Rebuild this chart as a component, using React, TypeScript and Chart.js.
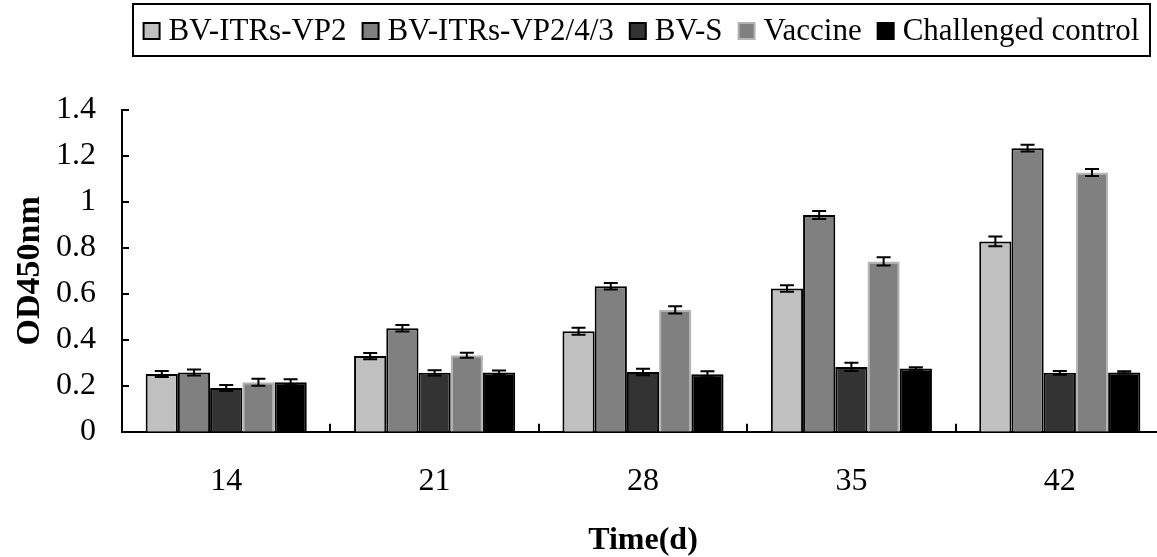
import React, { useEffect, useRef } from "react";
import { Chart, registerables } from "chart.js";

Chart.register(...registerables);

const categories = ["14", "21", "28", "35", "42"];
const seriesNames = ["BV-ITRs-VP2", "BV-ITRs-VP2/4/3", "BV-S", "Vaccine", "Challenged control"];

const vp2 = [0.251, 0.329, 0.437, 0.623, 0.828];
const vp243 = [0.258, 0.45, 0.633, 0.943, 1.234];
const bvs = [0.19, 0.256, 0.26, 0.282, 0.256];
const vaccine = [0.215, 0.333, 0.53, 0.741, 1.128];
const challenged = [0.215, 0.258, 0.25, 0.275, 0.258];

const vp2Err = [0.013, 0.014, 0.015, 0.014, 0.021];
const vp243Err = [0.013, 0.014, 0.014, 0.017, 0.015];
const bvsErr = [0.013, 0.011, 0.014, 0.018, 0.008];
const vaccineErr = [0.015, 0.011, 0.016, 0.018, 0.015];
const challengedErr = [0.013, 0.008, 0.013, 0.005, 0.005];

const yMin = 0;
const yMax = 1.4;
const yStep = 0.2;

const fills = ["#c0c0c0", "#808080", "#333333", "#808080", "#000000"];
const borders = ["#000000", "#000000", "#000000", "#b4b4b4", "#000000"];

const FONT = "'Liberation Serif', 'Times New Roman', serif";

export default function App() {
  const ref = useRef<HTMLCanvasElement | null>(null);

  useEffect(() => {
    document.body.style.margin = "0";
    const values = [vp2, vp243, bvs, vaccine, challenged];
    const errs = [vp2Err, vp243Err, bvsErr, vaccineErr, challengedErr];

    const errorBars = {
      id: "errorBars",
      afterDatasetsDraw(chart: any) {
        const ctx = chart.ctx;
        const y = chart.scales.y;
        ctx.save();
        ctx.strokeStyle = "#000";
        ctx.lineWidth = 2;
        chart.data.datasets.forEach((ds: any, i: number) => {
          const meta = chart.getDatasetMeta(i);
          meta.data.forEach((bar: any, j: number) => {
            const v = ds.data[j];
            const e = errs[i][j];
            const x = bar.x;
            const top = y.getPixelForValue(v + e);
            const bot = y.getPixelForValue(v - e);
            ctx.beginPath();
            ctx.moveTo(x, top);
            ctx.lineTo(x, bot);
            ctx.moveTo(x - 7, top);
            ctx.lineTo(x + 7, top);
            ctx.moveTo(x - 7, bot);
            ctx.lineTo(x + 7, bot);
            ctx.stroke();
          });
        });
        ctx.restore();
      },
    };

    const innerTicks = {
      id: "innerTicks",
      afterDraw(chart: any) {
        const ctx = chart.ctx;
        const y = chart.scales.y;
        const x = chart.scales.x;
        const area = chart.chartArea;
        ctx.save();
        ctx.strokeStyle = "#000";
        ctx.lineWidth = 2;
        ctx.beginPath();
        y.ticks.forEach((t: any) => {
          const py = Math.round(y.getPixelForValue(t.value));
          ctx.moveTo(area.left, py);
          ctx.lineTo(area.left + 7, py);
        });
        for (let k = 1; k <= categories.length; k++) {
          const px = Math.round(x.getPixelForValue(k - 0.5));
          ctx.moveTo(px, area.bottom);
          ctx.lineTo(px, area.bottom - 8);
        }
        ctx.stroke();
        ctx.restore();
      },
    };

    const boxedLegend = {
      id: "boxedLegend",
      afterDraw(chart: any) {
        const ctx = chart.ctx;
        ctx.save();
        ctx.font = `31px ${FONT}`;
        const marker = 16;
        const gapText = 9;
        const gapItem = 16;
        const widths = seriesNames.map((n) => ctx.measureText(n).width);
        let total = 0;
        widths.forEach((w, i) => {
          total += marker + gapText + w + (i < widths.length - 1 ? gapItem : 0);
        });
        const boxLeft = 133;
        const boxRight = 1150;
        const boxTop = 4;
        const boxBottom = 56;
        const cx = (boxLeft + boxRight) / 2;
        const cy = 31;
        ctx.strokeStyle = "#000";
        ctx.lineWidth = 2;
        ctx.strokeRect(boxLeft, boxTop, boxRight - boxLeft, boxBottom - boxTop);
        let xPos = cx - total / 2;
        ctx.textBaseline = "middle";
        ctx.textAlign = "left";
        seriesNames.forEach((n, i) => {
          ctx.fillStyle = fills[i];
          ctx.fillRect(xPos, cy - marker / 2, marker, marker);
          ctx.strokeStyle = borders[i];
          ctx.lineWidth = 2;
          ctx.strokeRect(xPos, cy - marker / 2, marker, marker);
          ctx.fillStyle = "#000";
          ctx.fillText(n, xPos + marker + gapText, cy + 1);
          xPos += marker + gapText + widths[i] + gapItem;
        });
        ctx.restore();
      },
    };

    const chart = new Chart(ref.current as HTMLCanvasElement, {
      type: "bar",
      data: {
        labels: categories,
        datasets: seriesNames.map((name, i) => ({
          label: name,
          data: values[i],
          backgroundColor: fills[i],
          borderColor: borders[i],
          borderWidth: 2,
          borderSkipped: "bottom",
          categoryPercentage: 0.773,
          barPercentage: 1,
        })),
      },
      options: {
        animation: false,
        responsive: true,
        maintainAspectRatio: false,
        layout: { padding: { top: 110, left: 0, right: 2, bottom: 0 } },
        plugins: {
          legend: { display: false },
          tooltip: { enabled: false },
        },
        scales: {
          x: {
            grid: { display: false, drawTicks: false },
            border: { display: true, color: "#000", width: 2 },
            ticks: {
              color: "#000",
              font: { family: FONT, size: 32 },
              padding: 31,
            },
            title: {
              display: true,
              text: "Time(d)",
              color: "#000",
              font: { family: FONT, size: 32, weight: "bold" },
              padding: { top: 0, bottom: -3 },
            },
            afterFit(scale: any) {
              scale.height = 557 - 431.7;
            },
          },
          y: {
            min: yMin,
            max: yMax,
            grid: { display: false, drawTicks: false },
            border: { display: true, color: "#000", width: 2 },
            ticks: {
              stepSize: yStep,
              color: "#000",
              font: { family: FONT, size: 32 },
              padding: 26,
              callback: (v: any) => String(Math.round(Number(v) * 10) / 10),
            },
            title: {
              display: true,
              text: "OD450nm",
              color: "#000",
              font: { family: FONT, size: 34, weight: "bold" },
              padding: { top: 10, bottom: 0 },
            },
            afterFit(scale: any) {
              scale.width = 122;
            },
          },
        },
      },
      plugins: [errorBars, innerTicks, boxedLegend],
    });
    return () => chart.destroy();
  }, []);

  return (
    <div style={{ width: 1157, height: 557, overflow: "hidden", position: "relative" }}>
      <div style={{ width: 1166, height: 557, position: "absolute", left: 0, top: 0 }}>
        <canvas ref={ref} />
      </div>
    </div>
  );
}
